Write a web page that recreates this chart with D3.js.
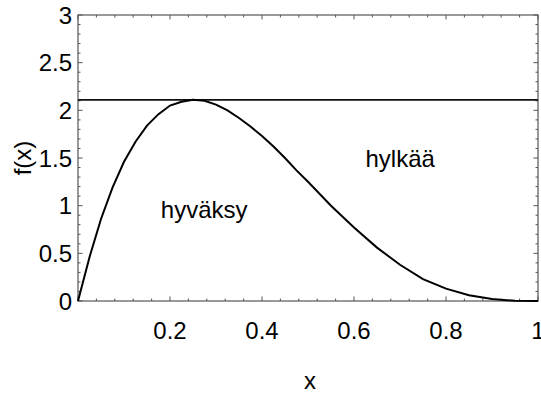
<!DOCTYPE html>
<html>
<head>
<meta charset="utf-8">
<script src="https://cdn.jsdelivr.net/npm/d3@7"></script>
<style>
  body { margin: 0; background: #fff; }
  svg { display: block; }
</style>
</head>
<body>
<div id="graph"></div>
<script>
// curve
var xs = [0, 0.025, 0.05, 0.075, 0.1, 0.125, 0.15, 0.175, 0.2, 0.225, 0.25, 0.275, 0.3,
          0.325, 0.35, 0.375, 0.4, 0.425, 0.45, 0.475, 0.5, 0.55, 0.6, 0.65, 0.7,
          0.75, 0.8, 0.85, 0.9, 0.95, 1];
var ys = [0, 0.46, 0.86, 1.19, 1.46, 1.67, 1.84, 1.96, 2.05, 2.09, 2.11, 2.10, 2.06,
          2.00, 1.92, 1.83, 1.73, 1.62, 1.50, 1.37, 1.25, 1.00, 0.77, 0.56, 0.38,
          0.23, 0.13, 0.06, 0.02, 0.002, 0];
var bound = 2.11;
var xTicks = [0.2, 0.4, 0.6, 0.8, 1];
var yTicks = [0, 0.5, 1, 1.5, 2, 2.5, 3];
var labels = [
  { text: "hyväksy", x: 0.18, y: 0.87 },
  { text: "hylkää", x: 0.625, y: 1.41 }
];

var width = 541, height = 393;
var fs = 24;
var x = d3.scaleLinear().domain([0, 1]).range([78, 538]);
var y = d3.scaleLinear().domain([0, 3]).range([301, 15]);

var svg = d3.select("#graph").append("svg")
    .attr("width", width)
    .attr("height", height)
    .attr("font-family", "Liberation Sans, Arial, sans-serif");

var frame = "#555";
var minorX = d3.range(0, 1.0001, 0.04);
var minorY = d3.range(0, 3.0001, 0.1);

// ticks, inside on all sides
function tickLen(v, step) {
  return Math.abs(v / step - Math.round(v / step)) < 1e-6 ? 4.5 : 2.5;
}
var ticks = svg.append("g").attr("stroke", frame).attr("stroke-width", 1);
minorX.forEach(function(v) {
  var l = tickLen(v, 0.2);
  ticks.append("line").attr("x1", x(v)).attr("x2", x(v)).attr("y1", y(0)).attr("y2", y(0) - l);
  ticks.append("line").attr("x1", x(v)).attr("x2", x(v)).attr("y1", y(3)).attr("y2", y(3) + l);
});
minorY.forEach(function(v) {
  var l = tickLen(v, 0.5);
  ticks.append("line").attr("x1", x(0)).attr("x2", x(0) + l).attr("y1", y(v)).attr("y2", y(v));
  ticks.append("line").attr("x1", x(1)).attr("x2", x(1) - l).attr("y1", y(v)).attr("y2", y(v));
});

svg.append("rect")
    .attr("x", x(0)).attr("y", y(3))
    .attr("width", x(1) - x(0)).attr("height", y(0) - y(3))
    .attr("fill", "none").attr("stroke", frame).attr("stroke-width", 1.2);

// tick labels
svg.selectAll(".xt").data(xTicks).enter().append("text")
    .attr("x", function(d) { return x(d); })
    .attr("y", 339)
    .attr("text-anchor", "middle")
    .attr("font-size", fs)
    .text(function(d) { return d; });

svg.selectAll(".yt").data(yTicks).enter().append("text")
    .attr("x", 72)
    .attr("y", function(d) { return y(d) + 8.5; })
    .attr("text-anchor", "end")
    .attr("font-size", fs)
    .text(function(d) { return d; });

// axis titles
svg.append("text")
    .attr("x", 310).attr("y", 389)
    .attr("text-anchor", "middle")
    .attr("font-size", fs)
    .text("x");

svg.append("text")
    .attr("transform", "translate(31,158) rotate(-90)")
    .attr("text-anchor", "middle")
    .attr("font-size", fs)
    .text("f(x)");

// bound line
svg.append("line")
    .attr("x1", x(0)).attr("x2", x(1))
    .attr("y1", y(bound)).attr("y2", y(bound))
    .attr("stroke", "#111").attr("stroke-width", 1.6);

// density curve
var line = d3.line()
    .x(function(d) { return x(d[0]); })
    .y(function(d) { return y(d[1]); });

svg.append("path")
    .datum(d3.zip(xs, ys))
    .attr("d", line)
    .attr("fill", "none")
    .attr("stroke", "#000")
    .attr("stroke-width", 2);

svg.selectAll(".lab").data(labels).enter().append("text")
    .attr("x", function(d) { return x(d.x); })
    .attr("y", function(d) { return y(d.y); })
    .attr("font-size", fs)
    .text(function(d) { return d.text; });
</script>
</body>
</html>
